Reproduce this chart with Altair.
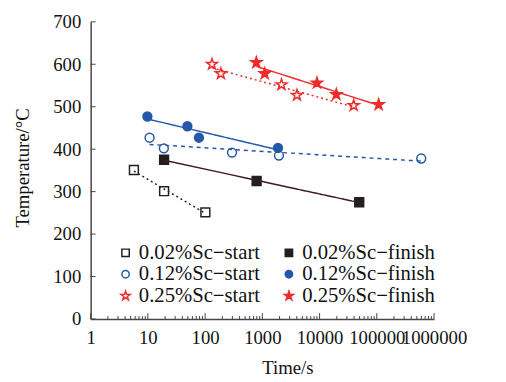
import altair as alt
import pandas as pd

series_names = ["0.02%Sc−start", "0.12%Sc−start", "0.25%Sc−start",
                "0.02%Sc−finish", "0.12%Sc−finish", "0.25%Sc−finish"]

t_002s = [5.7, 19.2, 101]
T_002s = [351, 301, 251]
t_012s = [10.7, 19, 295, 1950, 597000]
T_012s = [427, 402, 392, 385, 378]
t_025s = [132, 189, 2160, 4030, 39500]
T_025s = [600, 578, 552, 527, 503]
t_002f = [19.2, 794, 49300]
T_002f = [375, 325, 275]
t_012f = [9.8, 49, 78, 1876]
T_012f = [477, 454, 427, 403]
t_025f = [785, 1100, 9000, 19600, 107600]
T_025f = [604, 578, 556, 529, 505]

x_ticks = [1, 10, 100, 1000, 10000, 100000, 1000000]
x_minor = [m * 10 ** k for k in range(6) for m in range(2, 10)]
y_ticks = [0, 100, 200, 300, 400, 500, 600, 700]

BLACK = "#231f20"
BLUE = "#2458a8"
RED = "#ee2b2b"
AXIS = "#444444"
FONT = "Liberation Serif"

point_colors = [BLACK, BLUE, RED, BLACK, BLUE, RED]
point_fills = ["white", "white", "white", BLACK, BLUE, RED]
star = ("M0,-1.3L0.292,-0.402L1.236,-0.402L0.472,0.153L0.764,1.052L0,0.497"
        "L-0.764,1.052L-0.472,0.153L-1.236,-0.402L-0.292,-0.402Z")
shapes = ["square", "circle", star, "square", "circle", star]
line_colors = [BLACK, BLUE, RED, "#3d1c1c", BLUE, RED]
line_dashes = [[2, 3], [4, 4], [2, 3], None, None, None]

rows = []
for name, ts, Ts in zip(series_names,
                        [t_002s, t_012s, t_025s, t_002f, t_012f, t_025f],
                        [T_002s, T_012s, T_025s, T_002f, T_012f, T_025f]):
    for t, T in zip(ts, Ts):
        rows.append({"series": name, "t": t, "T": T})
df = pd.DataFrame(rows)

xscale = alt.Scale(type="log", domain=[1, 1000000])
yscale = alt.Scale(domain=[0, 700])
xaxis = alt.Axis(values=x_ticks, format="d", title="Time/s", ticks=False,
                 tickSize=0, grid=False, labelPadding=10,
                 labelFlush=False, labelOverlap=False, labelBound=False,
                 titleX=200, titleY=55, titleBaseline="alphabetic")
yaxis = alt.Axis(values=y_ticks, title="Temperature/°C", ticks=False,
                 tickSize=0, grid=False, labelPadding=10,
                 labelFlush=False, labelOverlap=False,
                 titleX=-63, titleY=148, titleAngle=270,
                 titleAlign="center", titleBaseline="alphabetic")
X = alt.X("t:Q", scale=xscale, axis=xaxis)
Y = alt.Y("T:Q", scale=yscale, axis=yaxis)

layers = []
for name, col, dash in zip(series_names, line_colors, line_dashes):
    kw = dict(color=col, strokeWidth=1.5)
    if dash is not None:
        kw["strokeDash"] = dash
    layers.append(
        alt.Chart(df)
        .transform_filter(alt.datum.series == name)
        .transform_regression("t", "T", method="log")
        .mark_line(**kw)
        .encode(x=X, y=Y)
    )

leg = alt.Legend(title=None)
points = alt.Chart(df).mark_point(filled=True, strokeWidth=1.5, opacity=1, size=81).encode(
    x=X, y=Y,
    shape=alt.Shape("series:N", scale=alt.Scale(domain=series_names, range=shapes), legend=leg),
    stroke=alt.Stroke("series:N", scale=alt.Scale(domain=series_names, range=point_colors), legend=leg),
    fill=alt.Fill("series:N", scale=alt.Scale(domain=series_names, range=point_fills), legend=leg),
)

ytick_layer = alt.Chart(pd.DataFrame({"T": y_ticks})).mark_rule(color=AXIS, strokeWidth=1).encode(
    y=Y, x=alt.value(0), x2=alt.value(5))
xtick_layer = alt.Chart(pd.DataFrame({"t": x_ticks})).mark_rule(color=AXIS, strokeWidth=1).encode(
    x=X, y=alt.value(302), y2=alt.value(296))
xminor_layer = alt.Chart(pd.DataFrame({"t": x_minor})).mark_rule(color=AXIS, strokeWidth=1).encode(
    x=X, y=alt.value(302), y2=alt.value(299))

chart = alt.layer(points, ytick_layer, xtick_layer, xminor_layer, *layers).properties(
    width=349, height=302,
    autosize=alt.AutoSizeParams(type="none"),
    padding={"left": 84, "top": 11, "right": 65, "bottom": 61},
).configure_view(stroke=None).configure_axis(
    domainColor=AXIS, domainWidth=1.5,
    labelFont=FONT, labelFontSize=19, labelColor="#111111",
    titleFont=FONT, titleFontSize=19, titleFontWeight="normal", titleColor="#111111",
).configure_legend(
    orient="none", legendX=25, legendY=224, columns=2, padding=0,
    labelFont=FONT, labelFontSize=21, labelColor="#111111", labelOffset=3,
    symbolSize=56, symbolStrokeWidth=1.5, columnPadding=18, rowPadding=0,
    labelLimit=300,
)

chart.save("out.html", embed_options={"renderer": "svg", "actions": False})
